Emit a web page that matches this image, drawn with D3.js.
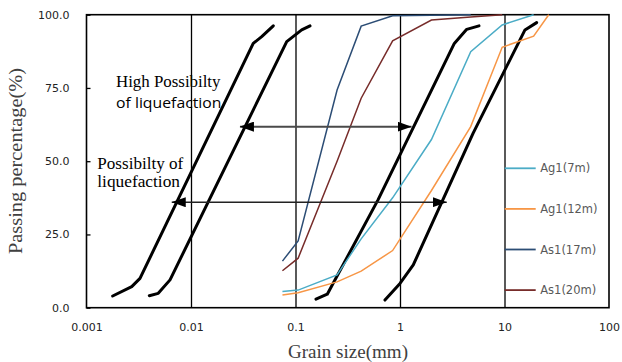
<!DOCTYPE html>
<html>
<head>
<meta charset="utf-8">
<script src="https://cdn.jsdelivr.net/npm/d3@7"></script>
<style>
  body { margin: 0; background: #fff; }
  svg { display: block; }
</style>
</head>
<body>
<div id="chart"></div>
<script>
// grain size (mm) vs passing percentage (%)
let xTicks = [0.001, 0.01, 0.1, 1, 10, 100];
let xTickLabels = ["0.001", "0.01", "0.1", "1", "10", "100"];
let yTicks = [0, 25, 50, 75, 100];

let seriesNames = ["Ag1(7m)", "Ag1(12m)", "As1(17m)", "As1(20m)"];
let ag1_7m  = [[0.075, 5.5], [0.106, 6.0], [0.25, 11.2], [0.425, 23.5], [0.85, 37.5], [2, 57.4], [4.75, 87.4], [9.5, 96.5], [19, 100]];
let ag1_12m = [[0.075, 4.3], [0.106, 5.1], [0.25, 8.8], [0.425, 12.5], [0.85, 19.5], [2, 40.0], [4.75, 61.8], [9.5, 88.9], [19, 92.7], [26.5, 100]];
let as1_17m = [[0.075, 15.9], [0.106, 22.8], [0.25, 74.3], [0.425, 96.1], [0.85, 99.6], [2, 99.8], [4.75, 100]];
let as1_20m = [[0.075, 12.6], [0.106, 16.9], [0.25, 50.0], [0.425, 71.5], [0.85, 91.1], [2, 98.2], [4.75, 99.2], [9.5, 100]];

// boundary curves of the liquefaction zones
let boundA = [[0.00178, 4.0], [0.00271, 7.2], [0.00325, 10.0], [0.0394, 90.2], [0.0475, 92.5], [0.0613, 96.2]];
let boundB = [[0.00399, 4.1], [0.00486, 4.9], [0.0063, 9.5], [0.0824, 90.8], [0.1146, 94.8], [0.1377, 96.2]];
let boundC = [[0.157, 2.9], [0.2014, 4.6], [0.616, 36.8], [3.31, 90.2], [4.35, 95.0], [5.70, 96.2]];
let boundD = [[0.718, 2.6], [1.0, 8.3], [1.34, 14.6], [5.0, 59.5], [15.7, 94.8], [20.3, 97.3]];

// zone arrows: level (%), left tip and right tip (mm)
let arrowLevels = [61.8, 36.0];
let arrowFrom = [0.0294, 0.00654];
let arrowTo = [1.29, 2.80];

let colors = ["#4bacc6", "#f79646", "#2c4d75", "#772c2a"];

let width = 622, height = 362;
let margin = { top: 14.7, right: 13, bottom: 54.3, left: 86.5 };
let innerW = width - margin.left - margin.right;
let innerH = height - margin.top - margin.bottom;

let xScale = d3.scaleLog().domain([0.001, 100]).range([0, innerW]);
let yScale = d3.scaleLinear().domain([0, 100]).range([innerH, 0]);

let svg = d3.select("#chart").append("svg")
  .attr("width", width)
  .attr("height", height);

let defs = svg.append("defs");
defs.append("marker")
  .attr("id", "head")
  .attr("viewBox", "0 0 14 10")
  .attr("refX", 14).attr("refY", 5)
  .attr("markerUnits", "userSpaceOnUse")
  .attr("markerWidth", 14).attr("markerHeight", 10)
  .attr("orient", "auto-start-reverse")
  .append("path")
  .attr("d", "M0,0L14,5L0,10Z")
  .attr("fill", "#000");

let g = svg.append("g")
  .attr("transform", `translate(${margin.left}, ${margin.top})`);

// vertical grid at decades
g.append("g")
  .attr("class", "grid")
  .attr("transform", `translate(0, ${innerH})`)
  .call(d3.axisBottom(xScale).tickValues(xTicks.slice(1, -1)).tickSize(-innerH).tickFormat(""))
  .call(s => s.select(".domain").remove())
  .selectAll("line")
  .attr("stroke", "#000")
  .attr("stroke-width", 1.3);

// x axis labels
g.append("g")
  .attr("transform", `translate(0, ${innerH})`)
  .call(d3.axisBottom(xScale).tickValues(xTicks).tickSize(0).tickPadding(16)
    .tickFormat((d, i) => xTickLabels[i]))
  .call(s => s.select(".domain").remove())
  .selectAll("text")
  .attr("font-family", "DejaVu Sans")
  .attr("font-size", 11)
  .attr("fill", "#222");

// y axis
g.append("g")
  .call(d3.axisLeft(yScale).tickValues(yTicks).tickSize(-4).tickPadding(17)
    .tickFormat(d3.format(".1f")))
  .call(s => s.select(".domain").remove())
  .call(s => s.selectAll("line").attr("stroke", "#000").attr("stroke-width", 1.3))
  .selectAll("text")
  .attr("font-family", "DejaVu Sans")
  .attr("font-size", 11)
  .attr("fill", "#222");

// plot border
g.append("rect")
  .attr("x", 0).attr("y", 0)
  .attr("width", innerW).attr("height", innerH)
  .attr("fill", "none")
  .attr("stroke", "#000")
  .attr("stroke-width", 1.6);

let line = d3.line()
  .x(d => xScale(d[0]))
  .y(d => yScale(d[1]));

// boundary curves
g.append("g")
  .selectAll("path")
  .data([boundA, boundB, boundC, boundD])
  .join("path")
  .attr("d", line)
  .attr("fill", "none")
  .attr("stroke", "#000")
  .attr("stroke-width", 3)
  .attr("stroke-linejoin", "round")
  .attr("stroke-linecap", "round");

// sample curves
let series = [ag1_7m, ag1_12m, as1_17m, as1_20m];
g.append("g")
  .selectAll("path")
  .data(series)
  .join("path")
  .attr("d", line)
  .attr("fill", "none")
  .attr("stroke", (d, i) => colors[i])
  .attr("stroke-width", 1.5);

// arrows
g.append("g")
  .selectAll("line")
  .data(arrowLevels)
  .join("line")
  .attr("x1", (d, i) => xScale(arrowFrom[i]))
  .attr("x2", (d, i) => xScale(arrowTo[i]))
  .attr("y1", d => yScale(d))
  .attr("y2", d => yScale(d))
  .attr("stroke", (d, i) => i === 0 ? "#4a4a4a" : "#222")
  .attr("stroke-width", (d, i) => i === 0 ? 2 : 1.4)
  .attr("marker-start", "url(#head)")
  .attr("marker-end", "url(#head)");

// annotations
function fitText(sel, w) {
  sel.attr("textLength", w).attr("lengthAdjust", "spacingAndGlyphs");
}
let notes = [
  { t: "High Possibilty", x: 116, y: 87.3, f: "Liberation Serif", s: 16, w: 104.5 },
  { t: "of liquefaction", x: 116, y: 107.5, f: "Open Sans", s: 15, w: 105.5 },
  { t: "Possibilty of", x: 97.3, y: 169, f: "Liberation Serif", s: 16.5, w: 86 },
  { t: "liquefaction", x: 97.3, y: 187.3, f: "Liberation Serif", s: 16.5, w: 82.7 }
];
notes.forEach(n => {
  svg.append("text")
    .attr("x", n.x).attr("y", n.y)
    .attr("font-family", n.f)
    .attr("font-size", n.s)
    .attr("fill", "#000")
    .text(n.t)
    .call(fitText, n.w);
});

// axis titles
svg.append("text")
  .attr("x", 288)
  .attr("y", 358)
  .attr("font-family", "Liberation Serif")
  .attr("font-size", 18)
  .attr("fill", "#404040")
  .text("Grain size(mm)")
  .call(fitText, 120);

svg.append("text")
  .attr("transform", "translate(22, 254) rotate(-90)")
  .attr("font-family", "Liberation Serif")
  .attr("font-size", 18)
  .attr("fill", "#404040")
  .text("Passing percentage(%)")
  .call(fitText, 186);

// legend
let legend = svg.append("g")
  .attr("transform", "translate(504.7, 168.3)");
let item = legend.selectAll("g")
  .data(seriesNames)
  .join("g")
  .attr("transform", (d, i) => `translate(0, ${i * 40.6})`);
item.append("line")
  .attr("x1", 0).attr("x2", 31)
  .attr("stroke", (d, i) => colors[i])
  .attr("stroke-width", 1.8);
item.append("text")
  .attr("x", 35.5)
  .attr("dy", "0.35em")
  .attr("font-family", "DejaVu Sans")
  .attr("font-size", 11.5)
  .attr("fill", "#595959")
  .text(d => d);
</script>
</body>
</html>
